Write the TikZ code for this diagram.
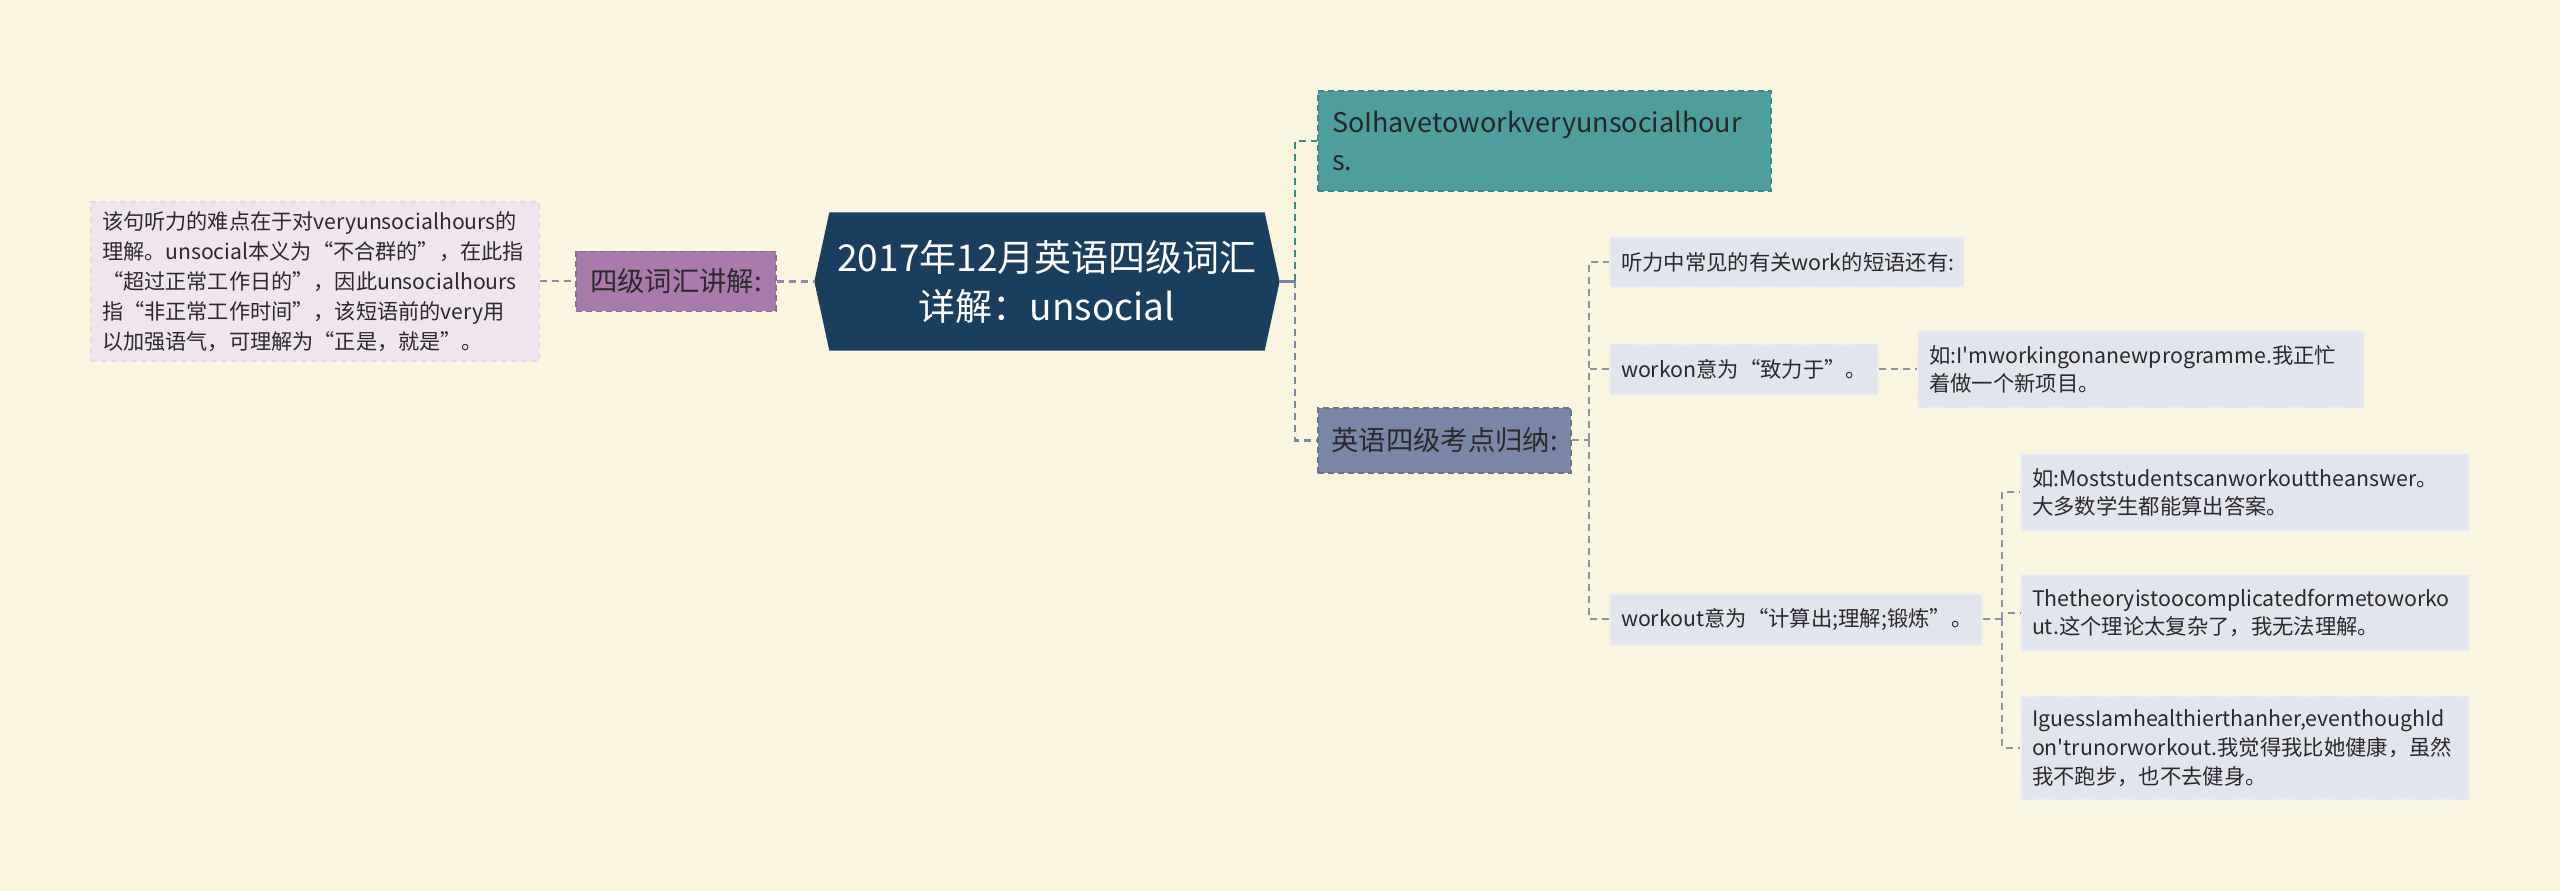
\documentclass[tikz,border=0pt]{standalone}
\usepackage{fontspec}
\setmainfont{Noto Sans CJK SC}[Ligatures=TeXOff]
\pgfdeclarelayer{background}
\pgfsetlayers{background,main}
\definecolor{bgc}{HTML}{FAF5DE}
\definecolor{navy}{HTML}{1A3F5E}
\definecolor{tealf}{HTML}{4E9E9E}
\definecolor{teald}{HTML}{3A8A8A}
\definecolor{slatef}{HTML}{7A86A5}
\definecolor{slated}{HTML}{65718F}
\definecolor{purf}{HTML}{A97BAA}
\definecolor{purd}{HTML}{94679A}
\definecolor{pinkf}{HTML}{F0E4EE}
\definecolor{pinkd}{HTML}{E8DAE6}
\definecolor{gfill}{HTML}{E3E5EE}
\definecolor{gline}{HTML}{EDEEF2}
\definecolor{gtext}{HTML}{2A2A2A}
\definecolor{gconn}{HTML}{8E93A3}
\definecolor{pconn}{HTML}{A57FA6}
\begin{document}
\begin{tikzpicture}[x=0.3pt,y=-0.3pt,
  dsh/.style={dash pattern=on 1.8pt off 1.2pt},
  gbox/.style={rectangle, fill=gfill, draw=gline, dsh, line width=0.4pt,
    inner xsep=3.3pt, inner ysep=0pt, align=left, text=gtext,
    font=\fontsize{6.4}{8.6}\selectfont},
  lvl/.style={rectangle, dsh, line width=0.5pt, inner sep=0pt, align=center,
    text=gtext, font=\fontsize{8.2}{10}\selectfont},
  conn/.style={dash pattern=on 2.1pt off 1.5pt, line width=0.8pt}
]
\begin{pgfonlayer}{background}
\fill[bgc] (0,0) rectangle (2560,891);
\end{pgfonlayer}
\useasboundingbox (0,0) rectangle (2560,891);

% central node
\node[inner sep=0pt, minimum width=139.2pt, minimum height=41.1pt, align=center,
  text=white, font=\fontsize{11.1}{14.7}\selectfont] (C) at (1047,281.5)
  {2017年12月英语四级词汇\\详解：unsocial};
\begin{pgfonlayer}{background}
\fill[navy] (C.west) -- ([xshift=4.5pt]C.north west) -- ([xshift=-4.5pt]C.north east)
  -- (C.east) -- ([xshift=-4.5pt]C.south east) -- ([xshift=4.5pt]C.south west) -- cycle;
\end{pgfonlayer}

% left side
\node[lvl, fill=purf, draw=purd, minimum width=60pt, minimum height=18pt] (V) at (676,281.5) {四级词汇讲解:};
\node[gbox, fill=pinkf, draw=pinkd, text width=127.8pt, minimum height=47.7pt,
  font=\fontsize{6.35}{9}\selectfont] (L) at (315,281.5)
  {该句听力的难点在于对veryunsocialhours的\\理解。unsocial本义为“不合群的”，在此指\\“超过正常工作日的”，因此unsocialhours\\指“非正常工作时间”，该短语前的very用\\以加强语气，可理解为“正是，就是”。};

% right side level 1
\node[lvl, fill=tealf, draw=teald, minimum width=135.9pt, minimum height=30pt,
  text width=127.5pt, inner xsep=4.2pt, align=left, text=black!85,
  font=\fontsize{8.1}{11.2}\selectfont] (T) at (1544.5,141)
  {SoIhavetoworkveryunsocialhour\\s.};
\node[lvl, fill=slatef, draw=slated, minimum width=75.9pt, minimum height=19.5pt] (K) at (1444.5,440.5) {英语四级考点归纳:};

% level 2
\node[gbox, text width=99.6pt, minimum height=15pt] (G1) at (1787,262) {听力中常见的有关work的短语还有:};
\node[gbox, text width=73.8pt, minimum height=15.3pt] (G2) at (1744,369.5) {workon意为“致力于”。};
\node[gbox, text width=127.2pt, minimum height=23.1pt] (G3) at (2141,369.5) {如:I'mworkingonanewprogramme.我正忙\\着做一个新项目。};
\node[gbox, text width=105pt, minimum height=15.3pt] (G4) at (1796,619.5) {workout意为“计算出;理解;锻炼”。};
\node[gbox, text width=127.8pt, minimum height=23.1pt] (G5) at (2245,492.5) {如:Moststudentscanworkouttheanswer。\\大多数学生都能算出答案。};
\node[gbox, text width=127.8pt, minimum height=22.8pt] (G6) at (2245,613) {Thetheoryistoocomplicatedformetoworko\\ut.这个理论太复杂了，我无法理解。};
\node[gbox, text width=127.8pt, minimum height=31.2pt] (G7) at (2245,748) {IguessIamhealthierthanher,eventhoughId\\on'trunorworkout.我觉得我比她健康，虽然\\我不跑步，也不去健身。};

% connectors
\coordinate (tr) at (1295,281.5);
\draw[slatef, line width=0.9pt] (C.east) -- (tr);
\draw[conn, teald] (tr) |- (T.west);
\draw[conn, slatef] (tr) |- (K.west);

\coordinate (kb) at (1589,440.5);
\draw[conn, gconn, line width=0.6pt] (K.east) -- (kb);
\draw[conn, gconn, line width=0.6pt] (kb) |- (G1.west);
\draw[conn, gconn, line width=0.6pt] (kb) |- (G2.west);
\draw[conn, gconn, line width=0.6pt] (kb) |- (G4.west);
\draw[conn, gconn, line width=0.6pt] (G2.east) -- (G3.west);

\coordinate (wb) at (2002,619.5);
\draw[conn, gconn, line width=0.6pt] (G4.east) -- (wb);
\draw[conn, gconn, line width=0.6pt] (wb) |- (G5.west);
\draw[conn, gconn, line width=0.6pt] (wb) |- (G6.west);
\draw[conn, gconn, line width=0.6pt] (wb) |- (G7.west);

\draw[conn, pconn] (V.east) -- (C.west);
\draw[conn, pconn, line width=0.6pt] (L.east) -- (V.west);
\end{tikzpicture}
\end{document}
